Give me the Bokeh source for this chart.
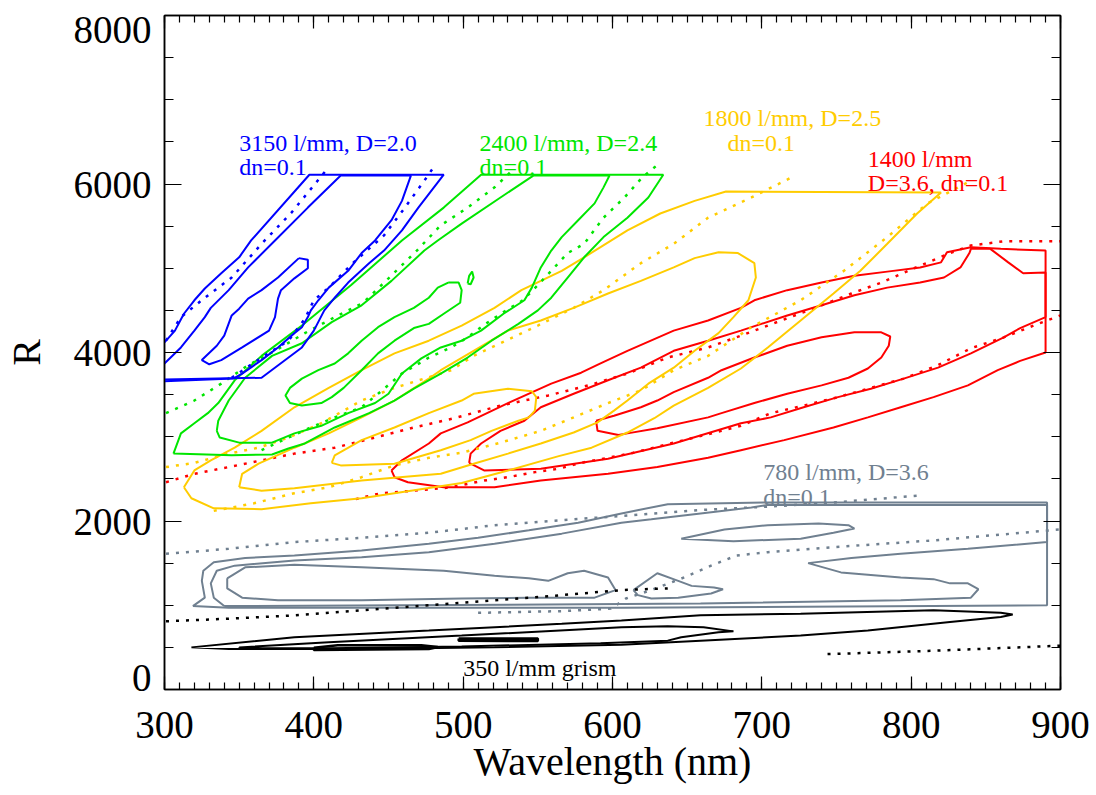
from bokeh.plotting import figure
from bokeh.models import Label, LinearAxis, SingleIntervalTicker, Range1d
from bokeh.embed import file_html
from bokeh.resources import INLINE

# ---------------- data (wavelength nm, resolving power R) ----------------
# 3150 l/mm, D=2.0 (blue)
blue_c1_x = [300, 365, 392, 400, 407, 414, 423, 437, 447, 459, 470, 487, 397, 358, 350, 338, 327, 320, 313, 307, 300]
blue_c1_r = [3680, 3700, 4060, 4260, 4500, 4650, 4830, 5060, 5210, 5450, 5720, 6110, 6110, 5330, 5130, 4940, 4760, 4620, 4460, 4260, 4120]
blue_c2_x = [300, 311, 320, 327, 331, 343, 356, 374, 396, 418, 465, 459, 452, 441, 432, 423, 410, 403, 398, 396, 392, 387, 376, 365, 352, 346, 300]
blue_c2_r = [3870, 4060, 4260, 4420, 4530, 4740, 5010, 5330, 5720, 6100, 6100, 5800, 5570, 5330, 5180, 4970, 4770, 4620, 4500, 4420, 4300, 4230, 4060, 3910, 3750, 3690, 3660]
blue_c3_x = [390, 396, 396, 387, 378, 376, 374, 370, 352, 338, 330, 325, 335, 340, 345, 350, 356, 365, 376, 390]
blue_c3_r = [5120, 5100, 5000, 4880, 4740, 4640, 4420, 4260, 4060, 3910, 3860, 3910, 4080, 4200, 4440, 4520, 4640, 4740, 4890, 5120]
blue_d1_x = [301, 311, 327, 345, 365, 385, 410]
blue_d1_r = [4140, 4420, 4650, 4890, 5290, 5660, 6200]
blue_d2_x = [345, 365, 383, 394, 400, 410, 426, 447, 461, 474, 481]
blue_d2_r = [3700, 3940, 4140, 4400, 4620, 4770, 5060, 5390, 5720, 6040, 6220]

# 2400 l/mm, D=2.4 (green)
green_c1_x = [306, 345, 372, 383, 394, 414, 437, 454, 467, 485, 503, 519, 537, 550, 559, 570, 581, 594, 610, 624, 634, 512, 487, 459, 425, 392, 365, 347, 336, 329, 320, 311, 306]
green_c1_r = [2800, 2780, 2790, 2860, 2920, 3110, 3280, 3430, 3570, 3750, 3940, 4140, 4340, 4500, 4650, 4890, 5130, 5370, 5600, 5840, 6110, 6110, 5720, 5330, 4800, 4320, 3960, 3670, 3400, 3280, 3160, 3040, 2800]
green_c2_x = [335, 337, 350, 372, 387, 405, 423, 441, 450, 459, 472, 485, 499, 512, 527, 541, 546, 552, 559, 566, 577, 588, 594, 598, 547, 525, 499, 483, 474, 452, 432, 412, 392, 372, 354, 343, 336, 335]
green_c2_r = [3070, 2990, 2930, 2930, 3040, 3130, 3280, 3400, 3510, 3750, 3930, 4060, 4140, 4260, 4460, 4620, 4770, 5010, 5210, 5370, 5570, 5770, 5960, 6100, 6100, 5840, 5530, 5330, 5210, 4850, 4560, 4360, 4110, 3960, 3700, 3430, 3190, 3070]
green_c3_x = [490, 497, 499, 498, 487, 477, 467, 454, 443, 432, 420, 412, 405, 392, 384, 381, 384, 392, 403, 414, 423, 432, 443, 454, 467, 477, 483, 490]
green_c3_r = [4830, 4830, 4740, 4590, 4460, 4340, 4290, 4140, 3990, 3790, 3580, 3470, 3400, 3370, 3400, 3490, 3580, 3690, 3790, 3870, 3990, 4140, 4300, 4420, 4530, 4650, 4770, 4830]
green_c4_x = [503, 504, 506, 507, 505, 503]
green_c4_r = [4820, 4910, 4960, 4890, 4810, 4820]
green_d1_x = [301, 320, 338, 356, 374, 394, 414, 433, 450, 469, 485, 503, 521, 534]
green_d1_r = [3280, 3430, 3630, 3850, 4020, 4230, 4420, 4590, 4880, 5210, 5510, 5720, 5960, 6180]
green_d2_x = [365, 383, 398, 414, 432, 443, 459, 477, 492, 503, 515, 527, 540, 550, 559, 570, 581, 594, 608, 620, 631]
green_d2_r = [2840, 2990, 3110, 3230, 3350, 3510, 3750, 3940, 4060, 4180, 4340, 4480, 4620, 4800, 4970, 5180, 5290, 5600, 5840, 6080, 6240]

# 1800 l/mm, D=2.5 (yellow)
yellow_c1_x = [313, 320, 331, 347, 365, 387, 410, 432, 454, 477, 499, 521, 539, 552, 566, 581, 592, 610, 632, 655, 676, 820, 804, 784, 766, 748, 726, 704, 686, 664, 641, 628, 610, 586, 564, 530, 499, 465, 432, 398, 365, 333, 318, 313]
yellow_c1_r = [2400, 2600, 2720, 2870, 3070, 3350, 3580, 3790, 3990, 4140, 4320, 4530, 4740, 4850, 4970, 5130, 5250, 5450, 5650, 5800, 5910, 5900, 5650, 5290, 4970, 4700, 4380, 4060, 3810, 3580, 3370, 3220, 3050, 2870, 2770, 2600, 2450, 2360, 2270, 2210, 2140, 2150, 2270, 2400]
yellow_c2_x = [350, 352, 363, 387, 410, 432, 454, 477, 485, 507, 530, 552, 574, 597, 619, 641, 655, 671, 684, 695, 696, 691, 681, 671, 655, 641, 624, 610, 601, 590, 574, 552, 530, 507, 485, 432, 387, 365, 350]
yellow_c2_r = [2400, 2560, 2680, 2870, 3040, 3230, 3430, 3690, 3790, 4020, 4260, 4380, 4530, 4700, 4850, 5010, 5120, 5190, 5180, 5060, 4890, 4620, 4420, 4230, 4020, 3820, 3630, 3430, 3310, 3170, 3050, 2920, 2800, 2680, 2560, 2480, 2390, 2360, 2400]
yellow_c3_x = [412, 414, 432, 454, 477, 499, 507, 530, 546, 549, 548, 544, 537, 519, 505, 485, 454, 418, 412]
yellow_c3_r = [2690, 2780, 2960, 3110, 3280, 3430, 3510, 3570, 3540, 3470, 3310, 3230, 3190, 3070, 2960, 2840, 2680, 2660, 2690]
yellow_d1_x = [301, 320, 343, 363, 383, 405, 432, 454, 474, 492, 507, 525, 550, 574, 594, 619, 641, 664, 693, 719]
yellow_d1_r = [2640, 2690, 2800, 2870, 2990, 3160, 3430, 3580, 3690, 3790, 3960, 4110, 4320, 4530, 4740, 5060, 5290, 5600, 5840, 6070]
yellow_d2_x = [333, 360, 387, 410, 432, 454, 477, 499, 525, 552, 574, 597, 619, 641, 664, 693, 726, 755, 784, 811, 838]
yellow_d2_r = [2120, 2210, 2330, 2400, 2520, 2660, 2750, 2810, 2930, 3070, 3230, 3400, 3550, 3790, 3960, 4300, 4620, 4970, 5370, 5770, 6020]

# 1400 l/mm, D=3.6 (red)
red_c1_x = [452, 459, 477, 485, 503, 530, 559, 579, 592, 610, 641, 664, 686, 695, 717, 740, 762, 784, 806, 820, 824, 840, 860, 890, 890, 873, 858, 838, 815, 793, 771, 748, 715, 686, 664, 630, 597, 552, 521, 487, 463, 454, 452]
red_c1_r = [2600, 2720, 2920, 3040, 3170, 3400, 3630, 3760, 3870, 4020, 4260, 4380, 4530, 4620, 4740, 4830, 4910, 4960, 5010, 5070, 5190, 5250, 5230, 5210, 4000, 3900, 3790, 3610, 3470, 3350, 3230, 3110, 2960, 2840, 2750, 2640, 2560, 2480, 2400, 2400, 2460, 2520, 2600]
red_c2_x = [504, 505, 512, 525, 541, 552, 574, 597, 619, 641, 664, 686, 717, 740, 762, 784, 806, 822, 833, 839, 840, 853, 865, 875, 890, 890, 873, 862, 840, 818, 795, 773, 751, 728, 706, 686, 641, 597, 552, 514, 504]
red_c2_r = [2690, 2800, 2920, 3070, 3190, 3350, 3510, 3670, 3820, 4020, 4140, 4260, 4440, 4560, 4680, 4770, 4830, 4890, 5010, 5180, 5230, 5230, 5070, 4940, 4950, 4420, 4290, 4180, 3990, 3820, 3690, 3570, 3470, 3350, 3230, 3160, 2920, 2740, 2620, 2600, 2690]
red_c3_x = [589, 601, 619, 630, 641, 664, 673, 695, 717, 740, 762, 780, 786, 785, 780, 771, 758, 740, 717, 695, 673, 664, 630, 610, 604, 590, 589]
red_c3_r = [3190, 3250, 3350, 3430, 3530, 3700, 3790, 3940, 4080, 4180, 4240, 4240, 4190, 4080, 3940, 3810, 3700, 3610, 3510, 3400, 3280, 3230, 3100, 3040, 3020, 3070, 3190]
red_d1_x = [428, 445, 467, 492, 514, 530, 548, 564, 579, 597, 614, 641, 673, 686, 706, 728, 751, 773, 795, 818, 840, 862, 885, 900]
red_d1_r = [2260, 2330, 2360, 2400, 2480, 2520, 2580, 2620, 2690, 2750, 2810, 2930, 3070, 3130, 3280, 3370, 3470, 3580, 3690, 3850, 4050, 4180, 4340, 4440]
red_d2_x = [301, 320, 343, 365, 387, 414, 441, 467, 494, 525, 557, 584, 610, 637, 664, 686, 713, 740, 760, 780, 802, 826, 840, 862, 900]
red_d2_r = [2460, 2560, 2640, 2720, 2800, 2870, 2990, 3110, 3220, 3370, 3490, 3610, 3750, 3940, 4060, 4200, 4380, 4560, 4700, 4830, 5000, 5180, 5270, 5320, 5320]

# 780 l/mm, D=3.6 (slate grey)
grey_c1_x = [319, 327, 325, 326, 333, 354, 387, 432, 477, 510, 544, 577, 606, 637, 704, 891, 891, 606, 432, 343, 319]
grey_c1_r = [990, 1090, 1290, 1410, 1510, 1560, 1590, 1650, 1730, 1800, 1890, 1980, 2090, 2200, 2220, 2220, 1000, 970, 970, 970, 990]
grey_c2_x = [340, 333, 331, 335, 347, 387, 432, 477, 521, 566, 606, 626, 659, 693, 704, 891, 891, 838, 793, 760, 731, 753, 793, 815, 826, 838, 845, 840, 793, 659, 459, 340]
grey_c2_r = [990, 1090, 1260, 1410, 1470, 1530, 1570, 1630, 1730, 1850, 1980, 2020, 2090, 2160, 2190, 2190, 1750, 1670, 1610, 1560, 1500, 1390, 1330, 1310, 1260, 1260, 1190, 1090, 1060, 1020, 1000, 990]
grey_c3_x = [342, 342, 352, 376, 432, 499, 544, 588, 602, 597, 581, 570, 557, 544, 521, 487, 432, 387, 354, 342]
grey_c3_r = [1320, 1200, 1090, 1060, 1060, 1080, 1090, 1090, 1180, 1330, 1410, 1380, 1290, 1320, 1350, 1410, 1450, 1480, 1450, 1320]
grey_c4_x = [614, 630, 644, 653, 668, 674, 666, 644, 626, 617, 614]
grey_c4_r = [1180, 1380, 1290, 1230, 1210, 1190, 1140, 1090, 1080, 1120, 1180]
grey_c5_x = [646, 675, 704, 738, 758, 762, 748, 726, 681, 646]
grey_c5_r = [1790, 1900, 1950, 1970, 1950, 1910, 1860, 1790, 1760, 1790]
grey_d1_x = [301, 343, 387, 432, 477, 521, 566, 614, 659, 704, 748, 804]
grey_d1_r = [1610, 1670, 1750, 1800, 1860, 1950, 2010, 2070, 2130, 2170, 2220, 2300]
grey_d2_x = [510, 566, 599, 609, 626, 648, 666, 683, 704, 748, 815, 900]
grey_d2_r = [910, 930, 960, 1080, 1180, 1330, 1470, 1590, 1630, 1690, 1770, 1900]

# 350 l/mm grism (black)
black_c1_x = [318, 387, 477, 566, 606, 659, 726, 815, 860, 868, 860, 826, 771, 726, 659, 606, 521, 432, 343, 318]
black_c1_r = [500, 620, 700, 780, 820, 880, 900, 940, 910, 890, 860, 800, 700, 640, 580, 530, 500, 480, 480, 500]
black_c2_x = [350, 410, 499, 606, 637, 661, 681, 671, 646, 637, 592, 499, 410, 350, 350]
black_c2_r = [500, 560, 640, 740, 750, 740, 690, 680, 620, 580, 550, 510, 490, 490, 500]
black_c3_x = [400, 416, 472, 483, 477, 400, 400]
black_c3_r = [495, 525, 525, 505, 480, 470, 495]
black_c4_x = [497, 550, 550, 497, 497]
black_c4_r = [605, 605, 575, 580, 605]
black_d1_x = [301, 343, 387, 432, 477, 521, 566, 606, 637]
black_d1_r = [810, 840, 880, 940, 1000, 1060, 1120, 1180, 1200]
black_d2_x = [744, 815, 900]
black_d2_r = [420, 460, 520]

# axis ticks (the end labels of R sit inside the axis extent, as in the original)
x_major_step = 100
y_major_step = 2000
y_label_overrides = {8000: " \n8000", 0: "0\n \n \n "}

FONT = "Liberation Serif"
BLUE = "#0000FF"
GREEN = "#00E600"
YELLOW = "#FFCC00"
RED = "#FF0000"
GREY = "#708090"
BLACK = "#000000"

p = figure(width=1090, height=795, x_range=Range1d(300, 900), y_range=Range1d(0, 8000),
           output_backend="svg", toolbar_location=None,
           min_border_left=163, min_border_right=30, min_border_top=15, min_border_bottom=106)
p.xgrid.visible = False
p.ygrid.visible = False
p.outline_line_color = "black"
p.outline_line_width = 1.5
p.background_fill_color = "white"
p.border_fill_color = "white"


def style_axis(ax, ticker, major_in, minor_in, labels):
    ax.ticker = ticker
    ax.major_tick_in = major_in
    ax.major_tick_out = 0
    ax.minor_tick_in = minor_in
    ax.minor_tick_out = 0
    ax.axis_line_color = "black"
    ax.axis_line_width = 1.5
    ax.major_tick_line_color = "black"
    ax.minor_tick_line_color = "black"
    ax.major_tick_line_width = 1.2
    ax.minor_tick_line_width = 1.2
    if labels:
        ax.major_label_text_font = FONT
        ax.major_label_text_font_size = "39px"
        ax.major_label_text_color = "black"
    else:
        ax.major_label_text_font_size = "1px"
        ax.major_label_text_color = None
        ax.major_label_standoff = 0


xb = p.below[0]
yl = p.left[0]
style_axis(xb, SingleIntervalTicker(interval=x_major_step, num_minor_ticks=10), 13, 7, True)
style_axis(yl, SingleIntervalTicker(interval=y_major_step, num_minor_ticks=4), 17, 9, True)
yl.major_label_overrides = y_label_overrides
yl.major_label_text_line_height = 0.18
xb.major_label_standoff = 22
yl.major_label_standoff = 13
xb.axis_label = "Wavelength (nm)"
yl.axis_label = "R"
for ax in (xb, yl):
    ax.axis_label_text_font = FONT
    ax.axis_label_text_font_size = "40px"
    ax.axis_label_text_font_style = "normal"
    ax.axis_label_text_color = "black"
xb.axis_label_standoff = -2
yl.axis_label_standoff = 22

xa = LinearAxis()
style_axis(xa, SingleIntervalTicker(interval=x_major_step, num_minor_ticks=10), 13, 7, False)
p.add_layout(xa, "above")
yr = LinearAxis()
style_axis(yr, SingleIntervalTicker(interval=y_major_step, num_minor_ticks=4), 17, 9, False)
p.add_layout(yr, "right")


def solid(x, r, c, w=2):
    p.line(x, r, line_color=c, line_width=w)


def dotted(x, r, c):
    p.line(x, r, line_color=c, line_width=2.5, line_dash="3 7")


# grey
for xs, rs in [(grey_c1_x, grey_c1_r), (grey_c2_x, grey_c2_r), (grey_c3_x, grey_c3_r),
               (grey_c4_x, grey_c4_r), (grey_c5_x, grey_c5_r)]:
    solid(xs, rs, GREY)
dotted(grey_d1_x, grey_d1_r, GREY)
dotted(grey_d2_x, grey_d2_r, GREY)

# black
for xs, rs in [(black_c1_x, black_c1_r), (black_c2_x, black_c2_r)]:
    solid(xs, rs, BLACK)
solid(black_c3_x, black_c3_r, BLACK, 2.5)
solid(black_c4_x, black_c4_r, BLACK, 2.5)
dotted(black_d1_x, black_d1_r, BLACK)
dotted(black_d2_x, black_d2_r, BLACK)

# red
for xs, rs in [(red_c1_x, red_c1_r), (red_c2_x, red_c2_r), (red_c3_x, red_c3_r)]:
    solid(xs, rs, RED)
dotted(red_d1_x, red_d1_r, RED)
dotted(red_d2_x, red_d2_r, RED)

# yellow
for xs, rs in [(yellow_c1_x, yellow_c1_r), (yellow_c2_x, yellow_c2_r), (yellow_c3_x, yellow_c3_r)]:
    solid(xs, rs, YELLOW)
dotted(yellow_d1_x, yellow_d1_r, YELLOW)
dotted(yellow_d2_x, yellow_d2_r, YELLOW)

# green
for xs, rs in [(green_c1_x, green_c1_r), (green_c2_x, green_c2_r), (green_c3_x, green_c3_r),
               (green_c4_x, green_c4_r)]:
    solid(xs, rs, GREEN)
dotted(green_d1_x, green_d1_r, GREEN)
dotted(green_d2_x, green_d2_r, GREEN)

# blue
for xs, rs in [(blue_c1_x, blue_c1_r), (blue_c2_x, blue_c2_r), (blue_c3_x, blue_c3_r)]:
    solid(xs, rs, BLUE)
dotted(blue_d1_x, blue_d1_r, BLUE)
dotted(blue_d2_x, blue_d2_r, BLUE)

labels = [
    (350, 6490, "3150 l/mm, D=2.0", BLUE),
    (350, 6196, "dn=0.1", BLUE),
    (511, 6490, "2400 l/mm, D=2.4", GREEN),
    (511, 6196, "dn=0.1", GREEN),
    (661, 6789, "1800 l/mm, D=2.5", YELLOW),
    (677, 6492, "dn=0.1", YELLOW),
    (771, 6302, "1400 l/mm", RED),
    (771, 6006, "D=3.6, dn=0.1", RED),
    (701, 2576, "780 l/mm, D=3.6", GREY),
    (701, 2279, "dn=0.1", GREY),
    (500, 255, "350 l/mm grism", BLACK),
]
for lx, ly, txt, col in labels:
    p.add_layout(Label(x=lx, y=ly, text=txt, text_font=FONT, text_font_size="24px",
                       text_color=col, text_align="left", text_baseline="alphabetic"))

open("out.html", "w").write(file_html(p, INLINE))
